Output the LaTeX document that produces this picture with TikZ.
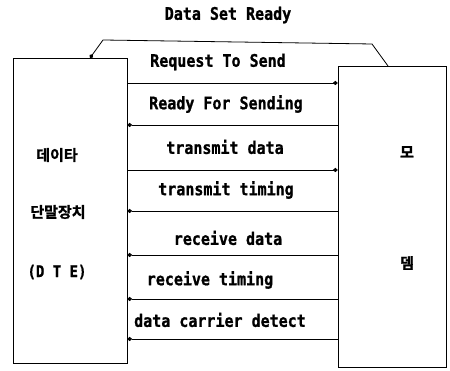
\documentclass[tikz,border=0pt]{standalone}
\usepackage{fontspec}
\usepackage{graphicx}
\setmonofont{DejaVu Sans Mono}[BoldFont={DejaVu Sans Mono Bold},BoldFeatures={FakeBold=1.2}]
\newfontfamily\kr{Noto Sans CJK KR}[BoldFont={Noto Sans CJK KR Bold},BoldFeatures={FakeBold=1.5}]
\usetikzlibrary{arrows.meta}
\newcommand{\tall}[1]{\scalebox{1}[1.15]{#1}}
\begin{document}
\begin{tikzpicture}[x=1pt,y=1pt,
  box/.style={draw,line width=0.8pt,minimum width=#1,inner sep=0pt},
  sig/.style={line width=0.8pt,-{Circle[length=4.5pt,width=4pt]}},
  lbl/.style={font=\ttfamily\bfseries\fontsize{15}{15}\selectfont,inner sep=0pt,anchor=center},
  kor/.style={font=\kr\bfseries\fontsize{15}{15}\selectfont,inner sep=0pt}]
\useasboundingbox (0,0) rectangle (450,371);
\node[box=114pt,minimum height=305pt] (dte) at (70,160.5) {};
\node[box=108pt,minimum height=301pt] (modem) at (392,154.5) {};
% labels in boxes
\node[kor] (k1) at (57,216) {데이타};
\node[kor] (k2) at (58,159) {단말장치};
\node[lbl,font=\ttfamily\bfseries\fontsize{14}{14}\selectfont] (k3) at (57,99) {\tall{(D T E)}};
\node[kor] (m1) at (407,219) {모};
\node[kor] (m2) at (407,108) {뎀};
% Data Set Ready
\node[lbl] (dsr) at (228,356) {\tall{Data Set Ready}};
\coordinate (d1) at (388,305);
\coordinate (d2) at (372,327);
\coordinate (d3) at (103,331);
\coordinate (d4) at (90,313);
\draw[sig] (d1) -- (d2) -- (d3) -- (d4);
% signals
\node[lbl] (t1) at (218,309) {\tall{Request To Send}};
\draw[sig] (dte.east |- 0,288) -- (modem.west |- 0,288);
\node[lbl] (t2) at (226,267) {\tall{Ready For Sending}};
\draw[sig] (modem.west |- 0,246) -- (dte.east |- 0,246);
\node[lbl] (t3) at (225,224) {\tall{transmit data}};
\draw[sig] (dte.east |- 0,201) -- (modem.west |- 0,201);
\node[lbl] (t4) at (226,181) {\tall{transmit timing}};
\draw[sig] (modem.west |- 0,160) -- (dte.east |- 0,160);
\node[lbl] (t5) at (228,133) {\tall{receive data}};
\draw[sig] (modem.west |- 0,116) -- (dte.east |- 0,116);
\node[lbl] (t6) at (210,91) {\tall{receive timing}};
\draw[sig] (modem.west |- 0,72) -- (dte.east |- 0,72);
\node[lbl] (t7) at (220,51) {\tall{data carrier detect}};
\draw[sig] (modem.west |- 0,32) -- (dte.east |- 0,32);
\end{tikzpicture}
\end{document}
